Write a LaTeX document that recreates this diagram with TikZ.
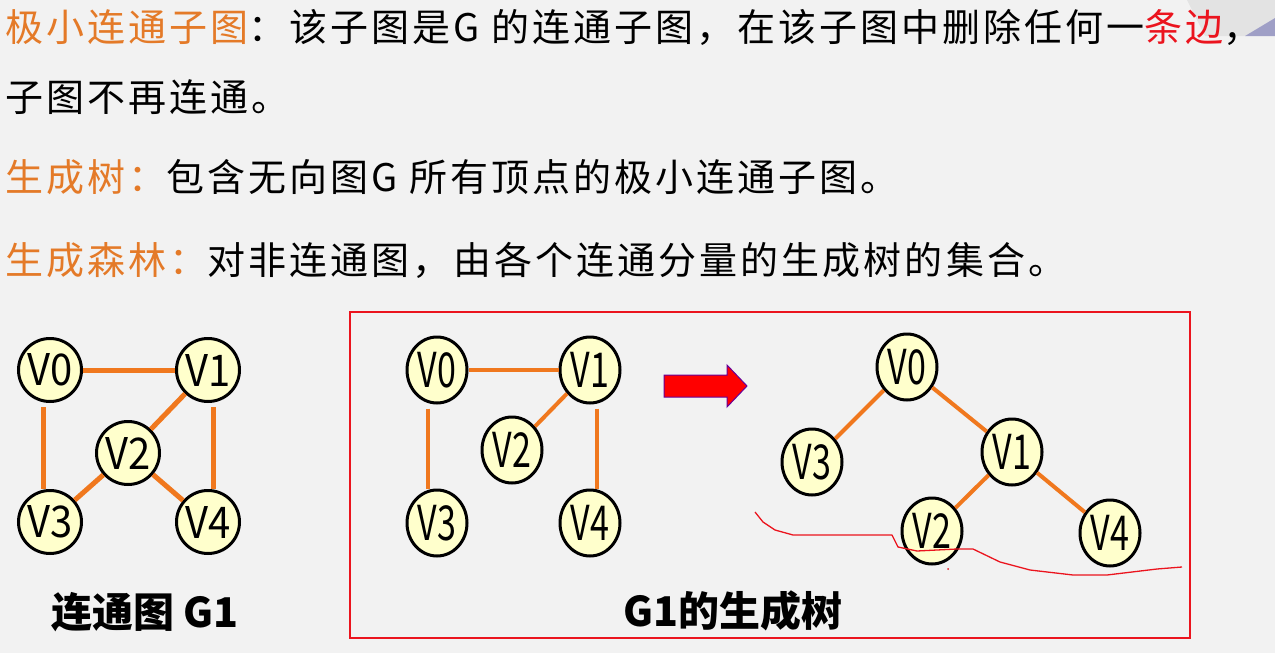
\documentclass[tikz,border=0pt]{standalone}
\usepackage{fontspec}
\setmainfont{Noto Sans CJK SC}
\usetikzlibrary{shapes.geometric}
\definecolor{slidebg}{RGB}{242,242,242}
\definecolor{keyorange}{RGB}{228,122,40}
\definecolor{edgeorange}{RGB}{240,120,30}
\definecolor{nodefill}{RGB}{255,255,204}
\definecolor{inkred}{RGB}{235,20,30}
\newcommand{\vlabel}[1]{\scalebox{1.08}[1.18]{#1}}
\newcommand{\olabel}[1]{\scalebox{0.92}[1.3]{#1}}
\tikzset{
  vtx/.style={circle,draw=black,line width=3pt,fill=nodefill,minimum size=63pt,
    inner sep=0pt,font=\fontsize{37}{37}\selectfont},
  ovtx/.style={ellipse,draw=black,line width=3pt,fill=nodefill,minimum width=60pt,
    minimum height=66pt,inner sep=0pt,font=\fontsize{37}{37}\selectfont},
  edge/.style={edgeorange,line width=5pt},
  tedge/.style={edgeorange,line width=4pt},
  txt/.style={anchor=base west,inner sep=0pt,
    font=\fontsize{38}{38}\selectfont\addfontfeature{LetterSpace=8}},
  caption/.style={anchor=base,inner sep=0pt,font=\bfseries\fontsize{41}{41}\selectfont}
}
\begin{document}
\begin{tikzpicture}[x=1pt,y=-1pt]
\fill[slidebg] (0,0) rectangle (1275,653);
\useasboundingbox (0,0) rectangle (1275,653);
% page corner
\fill[gray!22] (1187,0) -- (1275,0) -- (1275,18) -- (1245,36) -- (1205,36) -- cycle;
\fill[blue!25!gray!60] (1245,36) -- (1275,18) -- (1275,36) -- cycle;

% definitions
\node[txt] (l1) at (5,41) {\textcolor{keyorange}{极小连通子图}：该子图是G 的连通子图，在该子图中删除任何一\textcolor{inkred}{条边}，};
\node[txt] (l2) at (5,111) {子图不再连通。};
\node[txt] (l3) at (5,191) {\textcolor{keyorange}{生成树：}包含无向图G 所有顶点的极小连通子图。};
\node[txt] (l4) at (5,274) {\textcolor{keyorange}{生成森林：}对非连通图，由各个连通分量的生成树的集合。};

% G1
\node[vtx] (a0) at (50,370) {\vlabel{V0}};
\node[vtx] (a1) at (208,370) {\vlabel{V1}};
\node[vtx] (a2) at (128,453) {\vlabel{V2}};
\node[vtx] (a3) at (50,522) {\vlabel{V3}};
\node[vtx] (a4) at (208,522) {\vlabel{V4}};
\draw[edge] (a0) -- (a1);
\draw[edge] ([xshift=-7pt]a0.south) ++(0,4) -- ([xshift=-7pt]a3.north);
\draw[edge] ([xshift=5pt]a1.south) ++(0,4) -- ([xshift=5pt]a4.north);
\draw[edge] (a1) -- (a2);
\draw[edge] (a2) -- (a3);
\draw[edge] (a2) -- (a4);
\node[caption] (c1) at (145,627) {连通图 G1};

% box
\draw[inkred,line width=1.5pt] (350,312) rectangle (1190,638);

% G1 spanning tree, left
\node[ovtx] (b0) at (437,370) {\olabel{V0}};
\node[ovtx] (b1) at (590,370) {\olabel{V1}};
\node[ovtx] (b2) at (512,450) {\olabel{V2}};
\node[ovtx] (b3) at (437,523) {\olabel{V3}};
\node[ovtx] (b4) at (590,523) {\olabel{V4}};
\draw[tedge] (b0) -- (b1);
\draw[tedge] ([xshift=-9pt]b0.south) ++(0,4) -- ([xshift=-9pt]b3.north);
\draw[tedge] ([xshift=7pt]b1.south) ++(0,4) -- ([xshift=7pt]b4.north);
\draw[tedge] (b1) -- (b2);

% arrow
\filldraw[fill=red,draw=blue!60!red,line width=1pt]
  (664,375) -- (727,375) -- (727,365) -- (747,386) -- (727,407) -- (727,397) -- (664,397) -- cycle;

% G1 spanning tree, right
\node[ovtx] (t0) at (907,367) {\olabel{V0}};
\node[ovtx] (t3) at (812,462) {\olabel{V3}};
\node[ovtx] (t1) at (1012,452) {\olabel{V1}};
\node[ovtx] (t2) at (932,531) {\olabel{V2}};
\node[ovtx] (t4) at (1110,533) {\olabel{V4}};
\draw[tedge] (t0) -- (t3);
\draw[tedge] (t0) -- (t1);
\draw[tedge] (t1) -- (t2);
\draw[tedge] (t1) -- (t4);
\node[caption] (c2) at (733,626) {G1的生成树};

% hand-drawn mark
\draw[inkred,line width=1.3pt,line join=round] (755,512) -- (763,522) -- (775,530) -- (793,535) -- (892,535)
  -- (898,547) -- (917,551) -- (957,549) -- (973,549) -- (1000,562) -- (1030,570)
  -- (1073,575) -- (1107,575) -- (1157,569) -- (1182,567);
\fill[inkred] (948,569) circle (1pt);
\end{tikzpicture}
\end{document}
